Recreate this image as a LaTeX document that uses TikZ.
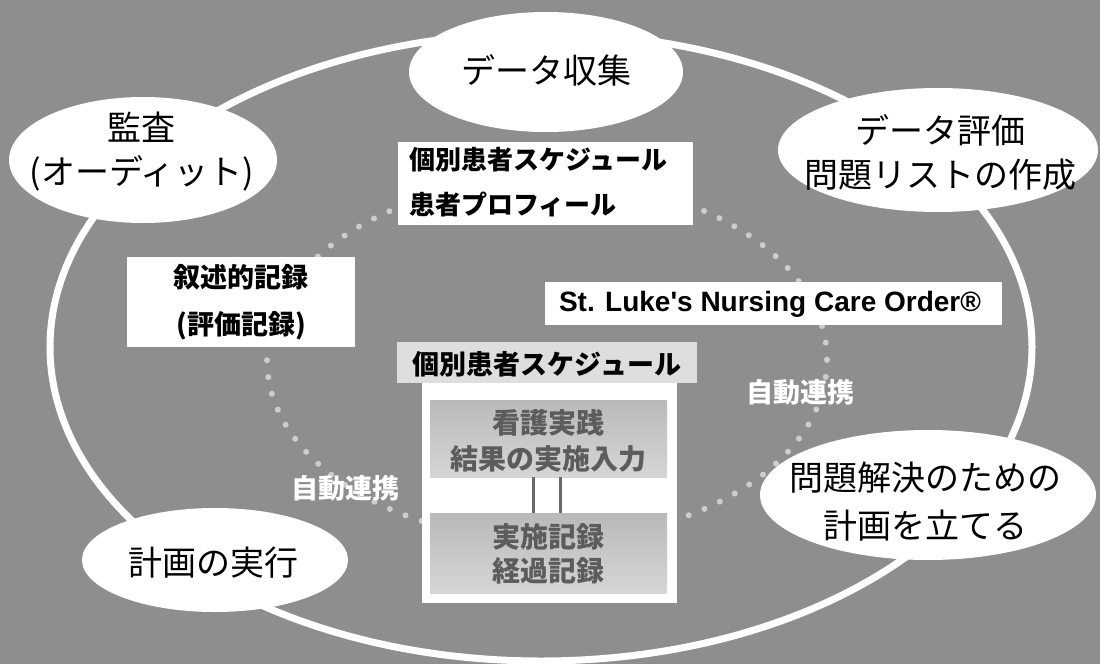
\documentclass[tikz,border=0pt]{standalone}
\usepackage{fontspec}
\newfontfamily\jp{Noto Sans CJK JP}
\newfontfamily\lat{Liberation Sans}
\usetikzlibrary{shapes.geometric}
\definecolor{bg}{HTML}{8E8E8E}
\definecolor{dotcol}{HTML}{CDCDCD}
\definecolor{hdr}{HTML}{DEDEDE}
\definecolor{innerA}{HTML}{B9B9B9}
\definecolor{innerB}{HTML}{D6D6D6}
\definecolor{innertxt}{HTML}{5C5C5C}
\definecolor{linecol}{HTML}{6A6A6A}
\begin{document}
\begin{tikzpicture}[x=1pt,y=-1pt,
  bubble/.style={ellipse, fill=white, inner sep=0pt},
  btxt/.style={align=center, inner sep=0pt, font=\jp\fontsize{34}{44}\selectfont},
  wbox/.style={rectangle, fill=white, inner sep=0pt},
  boxtxt/.style={inner sep=0pt, align=center, font=\jp\bfseries\fontsize{26}{44}\selectfont},
  inbox/.style={rectangle, top color=innerA, bottom color=innerB, inner sep=0pt},
  intxt/.style={inner sep=0pt, align=center, text=innertxt, font=\jp\bfseries\fontsize{28}{36}\selectfont},
  autolbl/.style={inner sep=0pt, text=white, font=\jp\bfseries\fontsize{27}{30}\selectfont},
  conn/.style={draw=linecol, line width=3pt}
]
\fill[bg] (0,0) rectangle (1100,664);
\useasboundingbox (0,0) rectangle (1100,664);
% big cycle
\draw[white, line width=7pt] (541,347) ellipse [x radius=491, y radius=314];
% dotted inner ring
\draw[dotcol, line width=6pt, line cap=round, dash pattern=on 0pt off 17pt] (547,360) ellipse [x radius=280, y radius=180];

% boxes
\node[wbox, minimum width=295, minimum height=83] (prof) at (545.5,183.5) {};
\node[boxtxt, anchor=west] (proft1) at (409,160) {個別患者スケジュール};
\node[boxtxt, anchor=west] (proft2) at (409,204) {患者プロフィール};

\node[wbox, minimum width=457, minimum height=43] (order) at (773.5,303.5) {};
\node[inner sep=0pt, font=\lat\bfseries\fontsize{28}{30}\selectfont] (ordert) at (770,304) {St. Luke's Nursing Care Order\textregistered};

\node[wbox, minimum width=228, minimum height=90] (narr) at (241,302) {};
\node[boxtxt, font=\jp\bfseries\fontsize{27}{47}\selectfont] (narrt) at (241,302) {叙述的記録\\(評価記録)};

\node[rectangle, fill=hdr, inner sep=0pt, minimum width=300, minimum height=41] (sched) at (547,362.5) {};
\node[boxtxt, font=\jp\bfseries\fontsize{27}{30}\selectfont] (schedt) at (547,364) {個別患者スケジュール};
\node[wbox, minimum width=255, minimum height=220] (body) at (549.5,493) {};
\node[inbox, minimum width=237, minimum height=77] (in1) at (548.5,438.5) {};
\node[intxt] (in1t) at (548.5,441) {看護実践\\結果の実施入力};
\node[inbox, minimum width=237, minimum height=80] (in2) at (548.5,553) {};
\node[intxt, font=\jp\bfseries\fontsize{28}{34}\selectfont] (in2t) at (548.5,554) {実施記録\\経過記録};
\draw[conn] ([xshift=-15]in1.south) -- ([xshift=-15]in2.north);
\draw[conn] ([xshift=12]in1.south) -- ([xshift=12]in2.north);

% bubbles
\node[bubble, minimum width=274, minimum height=120] (collect) at (546,72) {};
\node[btxt] (collectt) at (546,70) {データ収集};
\node[bubble, minimum width=268, minimum height=126] (audit) at (143,160) {};
\node[btxt] (auditt) at (142,152) {監査\\(オーディット)};
\node[bubble, minimum width=320, minimum height=124] (eval) at (938,150) {};
\node[btxt] (evalt) at (940,152) {データ評価\\問題リストの作成};
\node[bubble, minimum width=336, minimum height=130] (plan) at (928,495) {};
\node[btxt, font=\jp\fontsize{34}{48}\selectfont] (plant) at (925,502) {問題解決のための\\計画を立てる};
\node[bubble, minimum width=266, minimum height=104] (exec) at (215,560) {};
\node[btxt] (exect) at (213,563) {計画の実行};

% auto-link labels
\node[autolbl] (auto1) at (800,392) {自動連携};
\node[autolbl] (auto2) at (345,488) {自動連携};
\end{tikzpicture}
\end{document}
